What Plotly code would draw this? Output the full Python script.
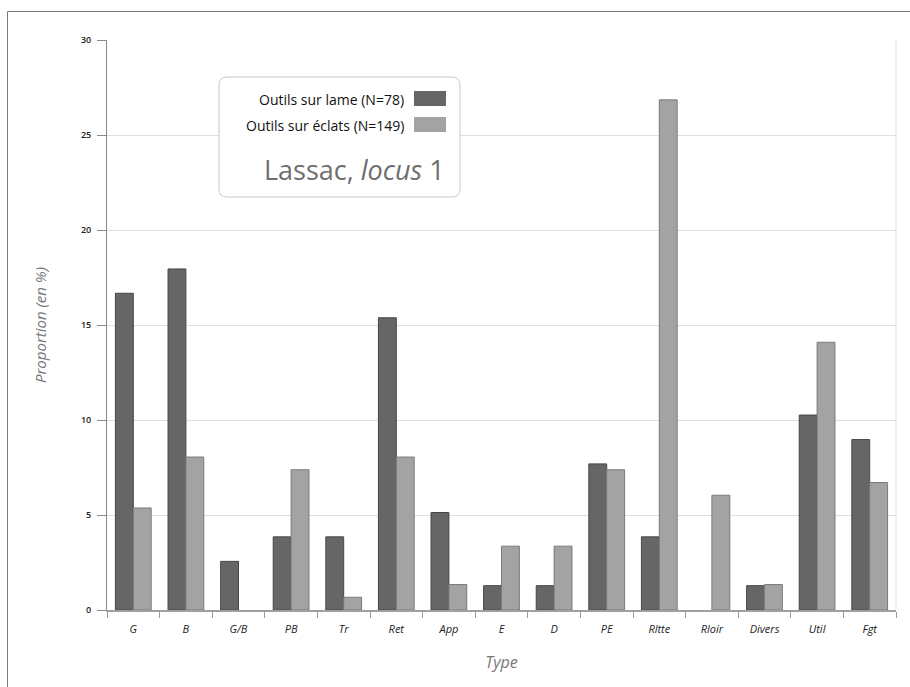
import plotly.graph_objects as go

categories = ["G", "B", "G/B", "PB", "Tr", "Ret", "App", "E", "D", "PE",
              "Rltte", "Rloir", "Divers", "Util", "Fgt"]
lame = [16.67, 17.95, 2.56, 3.85, 3.85, 15.38, 5.13, 1.28, 1.28, 7.69,
        3.85, 0, 1.28, 10.26, 8.97]
eclats = [5.37, 8.05, 0, 7.38, 0.67, 8.05, 1.34, 3.36, 3.36, 7.38,
          26.85, 6.04, 1.34, 14.09, 6.71]
series_names = ["Outils sur lame (N=78)", "Outils sur éclats (N=149)"]
y_ticks = [0, 5, 10, 15, 20, 25, 30]

W, H = 910, 687
L, R, T, B = 107, 14, 40, 77
PW, PH = W - L - R, H - T - B

def px(x):
    return (x - L) / PW

def py(y):
    return (H - B - y) / PH

def nz(vals):
    return [v if v else None for v in vals]

FONT = "Open Sans"
DARK, LIGHT = "#666666", "#a3a3a3"

fig = go.Figure()
fig.add_trace(go.Bar(x=categories, y=nz(lame), name=series_names[0],
                     marker=dict(color=DARK, line=dict(color="#474747", width=1))))
fig.add_trace(go.Bar(x=categories, y=nz(eclats), name=series_names[1],
                     marker=dict(color=LIGHT, line=dict(color="#7a7a7a", width=1))))

shapes = []
# outer frame (top and left)
shapes.append(dict(type="line", xref="paper", yref="paper",
                   x0=px(7.5), x1=px(W + 5), y0=py(11.5), y1=py(11.5),
                   line=dict(color="#7a7a7a", width=1)))
shapes.append(dict(type="line", xref="paper", yref="paper",
                   x0=px(7.5), x1=px(7.5), y0=py(11.5), y1=py(H + 5),
                   line=dict(color="#7a7a7a", width=1)))
# right border of plot
shapes.append(dict(type="line", xref="paper", yref="paper",
                   x0=1, x1=1, y0=0, y1=1,
                   line=dict(color="#dde3e6", width=1)))

# legend box (rounded)
x0, x1, y0, y1, r = 219, 460, 77, 197, 8
path = (f"M {px(x0 + r)},{py(y0)} L {px(x1 - r)},{py(y0)} "
        f"Q {px(x1)},{py(y0)} {px(x1)},{py(y0 + r)} "
        f"L {px(x1)},{py(y1 - r)} Q {px(x1)},{py(y1)} {px(x1 - r)},{py(y1)} "
        f"L {px(x0 + r)},{py(y1)} Q {px(x0)},{py(y1)} {px(x0)},{py(y1 - r)} "
        f"L {px(x0)},{py(y0 + r)} Q {px(x0)},{py(y0)} {px(x0 + r)},{py(y0)} Z")
shapes.append(dict(type="path", xref="paper", yref="paper", path=path,
                   fillcolor="white", line=dict(color="#c8c8c8", width=1)))
# swatches
for (top, col) in [(91, DARK), (117, LIGHT)]:
    shapes.append(dict(type="rect", xref="paper", yref="paper",
                       x0=px(414), x1=px(446), y0=py(top + 15), y1=py(top),
                       fillcolor=col, line=dict(width=0)))

annotations = []
for name, yy in zip(series_names, [99, 125]):
    annotations.append(dict(xref="paper", yref="paper", x=px(406), y=py(yy),
                            xanchor="right", yanchor="middle", showarrow=False,
                            text=name, font=dict(family=FONT, size=14, color="#111111")))
annotations.append(dict(xref="paper", yref="paper", x=px(447), y=py(169),
                        xanchor="right", yanchor="middle", showarrow=False,
                        text="Lassac, <i>locus</i> 1",
                        font=dict(family=FONT, size=27, color="#6e6e6e")))

fig.update_layout(
    width=W, height=H,
    margin=dict(l=L, r=R, t=T, b=B, pad=0),
    paper_bgcolor="white", plot_bgcolor="white",
    barmode="group", bargap=0.32, bargroupgap=0,
    showlegend=False,
    shapes=shapes, annotations=annotations,
    font=dict(family=FONT),
    xaxis=dict(
        tickson="boundaries", ticks="outside", ticklen=6, tickcolor="#999999",
        showline=True, linecolor="#a0a0a0", linewidth=2,
        showgrid=False, zeroline=False, ticklabelstandoff=8,
        tickfont=dict(family=FONT, size=11, color="#222222", style="italic"),
        title=dict(text="<i>Type</i>", font=dict(family=FONT, size=16, color="#777777"),
                   standoff=22),
    ),
    yaxis=dict(
        range=[0, 30], tickvals=y_ticks, ticks="outside", ticklen=9,
        tickcolor="#888888", showline=True, linecolor="#888888", linewidth=1,
        showgrid=True, gridcolor="#d9e2e2", gridwidth=1, zeroline=False,
        ticklabelstandoff=4,
        tickfont=dict(family=FONT, size=9, color="#222222", weight=600),
        title=dict(text="<i>Proportion (en %)</i>",
                   font=dict(family=FONT, size=15, color="#777777"), standoff=30),
    ),
)

fig.write_html("out.html", config={"displayModeBar": False},
               post_script="document.body.style.margin='0px';document.body.style.overflow='hidden';")
